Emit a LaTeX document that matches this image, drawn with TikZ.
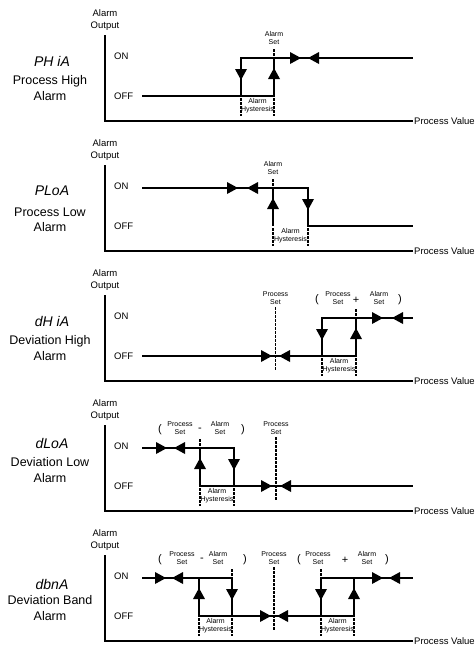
\documentclass[tikz,border=0pt]{standalone}
\usepackage{fontspec}
\setmainfont{Liberation Sans}
\usetikzlibrary{positioning}

% frame of one chart: axes and their labels
\newcommand{\alarmframe}{%
	\draw [axisline] (105,35) -- (105,121) -- (413,121);
	\node [axislabel] (out) at (105,20) {Alarm\\Output};
	\node [axislabel, anchor=west] (on) at (114,56) {ON};
	\node [axislabel, anchor=west] (off) at (114,96) {OFF};
	\node [axislabel, anchor=west] (pv) at (414,121) {Process Value};
}

\begin{document}
\begin{tikzpicture}[x=1pt, y=-1pt,
	axisline/.style={line width=1.5pt},
	signal/.style={line width=1.5pt, line join=miter},
	marker/.style={line width=1.8pt, dash pattern=on 2.5pt off 1.5pt},
	axislabel/.style={font=\fontsize{9.5}{11.5}\selectfont, align=center, inner sep=0pt},
	small/.style={font=\fontsize{7}{8.5}\selectfont, align=center, inner sep=0pt},
	paren/.style={font=\fontsize{11}{12}\selectfont, inner sep=0pt},
	dispcode/.style={font=\fontsize{14}{16}\selectfont\itshape, inner sep=0pt},
	alarmname/.style={font=\fontsize{12.5}{15.5}\selectfont, align=center, inner sep=0pt},
	rtip/.pic={\fill (0,0) -- (-11,-6) -- (-11,6) -- cycle;},
	ltip/.pic={\fill (0,0) -- (11,-6) -- (11,6) -- cycle;},
	utip/.pic={\fill (0,0) -- (-6,11) -- (6,11) -- cycle;},
	dtip/.pic={\fill (0,0) -- (-6,-11) -- (6,-11) -- cycle;}]
	\useasboundingbox (0,0) rectangle (475,646);

	% Process High Alarm
	\begin{scope}
		\alarmframe
		\node [dispcode] (code1) at (52,61) {PH iA};
		\node [alarmname] (name1) at (50,88) {Process High\\Alarm};
		\draw [signal] (142,96) -- (274,96) -- (274,58);
		\draw [signal] (241,96) -- (241,58) -- (413,58);
		\path (241,80) pic {dtip} (274,68) pic {utip}
			(301,58) pic {rtip} (308,58) pic {ltip};
		\draw [marker] (274,49) -- (274,57);
		\draw [marker] (241,98) -- (241,116) (274,98) -- (274,116);
		\node [small] (set1) at (274,38) {Alarm\\Set};
		\node [small] (hys1) at (257.5,105.5) {Alarm\\Hysteresis};
	\end{scope}

	% Process Low Alarm
	\begin{scope}[shift={(0,130)}]
		\alarmframe
		\node [dispcode] (code2) at (52,61) {PLoA};
		\node [alarmname] (name2) at (50,90) {Process Low\\Alarm};
		\draw [signal] (142,58) -- (308,58) -- (308,96) -- (413,96);
		\draw [signal] (273,58) -- (273,96);
		\path (238,58) pic {rtip} (247,58) pic {ltip}
			(273,68) pic {utip} (308,80) pic {dtip};
		\draw [marker] (273,49) -- (273,57);
		\draw [marker] (273,98) -- (273,116) (308,98) -- (308,116);
		\node [small] (set2) at (273,38) {Alarm\\Set};
		\node [small] (hys2) at (290.5,105.5) {Alarm\\Hysteresis};
	\end{scope}

	% Deviation High Alarm
	\begin{scope}[shift={(0,260)}]
		\alarmframe
		\node [dispcode] (code3) at (52,61) {dH iA};
		\node [alarmname] (name3) at (50,88) {Deviation High\\Alarm};
		\draw [signal] (142,96) -- (356,96) -- (356,58);
		\draw [signal] (322,96) -- (322,58) -- (413,58);
		\path (272,96) pic {rtip} (279,96) pic {ltip}
			(322,80) pic {dtip} (356,68) pic {utip}
			(383,58) pic {rtip} (392,58) pic {ltip};
		\draw [marker] (275.5,47) -- (275.5,110);
		\draw [marker] (356,49) -- (356,57);
		\draw [marker] (322,98) -- (322,116) (356,98) -- (356,116);
		\node [small] (ps3) at (275.5,38) {Process\\Set};
		\node [paren] (lp3) at (317,40) {(};
		\node [small] (psa3) at (338,38) {Process\\Set};
		\node [paren] (op3) at (356,40) {+};
		\node [small] (set3) at (379,38) {Alarm\\Set};
		\node [paren] (rp3) at (400,40) {)};
		\node [small] (hys3) at (339,105.5) {Alarm\\Hysteresis};
	\end{scope}

	% Deviation Low Alarm
	\begin{scope}[shift={(0,390)}]
		\alarmframe
		\node [dispcode] (code4) at (52,53) {dLoA};
		\node [alarmname] (name4) at (50,80) {Deviation Low\\Alarm};
		\draw [signal] (142,58) -- (234,58) -- (234,96);
		\draw [signal] (200,58) -- (200,96) -- (413,96);
		\path (167,58) pic {rtip} (174,58) pic {ltip}
			(200,68) pic {utip} (234,80) pic {dtip}
			(272,96) pic {rtip} (280,96) pic {ltip};
		\draw [marker] (276,47) -- (276,110);
		\draw [marker] (200,49) -- (200,57);
		\draw [marker] (200,98) -- (200,116) (234,98) -- (234,116);
		\node [paren] (lp4) at (160,40) {(};
		\node [small] (psa4) at (180,38) {Process\\Set};
		\node [paren] (op4) at (200,40) {-};
		\node [small] (set4) at (220,38) {Alarm\\Set};
		\node [paren] (rp4) at (243,40) {)};
		\node [small] (ps4) at (276,38) {Process\\Set};
		\node [small] (hys4) at (217,105.5) {Alarm\\Hysteresis};
	\end{scope}

	% Deviation Band Alarm
	\begin{scope}[shift={(0,520)}]
		\alarmframe
		\node [dispcode] (code5) at (52,64) {dbnA};
		\node [alarmname] (name5) at (50,88) {Deviation Band\\Alarm};
		\draw [signal] (142,58) -- (232,58) -- (232,96);
		\draw [signal] (199,58) -- (199,96) -- (354,96) -- (354,58);
		\draw [signal] (321,96) -- (321,58) -- (413,58);
		\path (166,58) pic {rtip} (172,58) pic {ltip}
			(199,68) pic {utip} (232,80) pic {dtip}
			(271,96) pic {rtip} (277,96) pic {ltip}
			(321,80) pic {dtip} (354,68) pic {utip}
			(383,58) pic {rtip} (389,58) pic {ltip};
		\draw [marker] (274,47) -- (274,110);
		\draw [marker] (232,49) -- (232,57) (321,49) -- (321,57);
		\draw [marker] (199,98) -- (199,116) (232,98) -- (232,116);
		\draw [marker] (321,98) -- (321,116) (354,98) -- (354,116);
		\node [paren] (lp5) at (160,40) {(};
		\node [small] (psa5) at (182,38) {Process\\Set};
		\node [paren] (op5) at (202,40) {-};
		\node [small] (set5) at (218,38) {Alarm\\Set};
		\node [paren] (rp5) at (245,40) {)};
		\node [small] (ps5) at (274,38) {Process\\Set};
		\node [paren] (lq5) at (299,40) {(};
		\node [small] (psb5) at (318,38) {Process\\Set};
		\node [paren] (oq5) at (345,40) {+};
		\node [small] (setb5) at (367,38) {Alarm\\Set};
		\node [paren] (rq5) at (387,40) {)};
		\node [small] (hys5) at (215.5,105.5) {Alarm\\Hysteresis};
		\node [small] (hysb5) at (337.5,105.5) {Alarm\\Hysteresis};
	\end{scope}
\end{tikzpicture}
\end{document}
